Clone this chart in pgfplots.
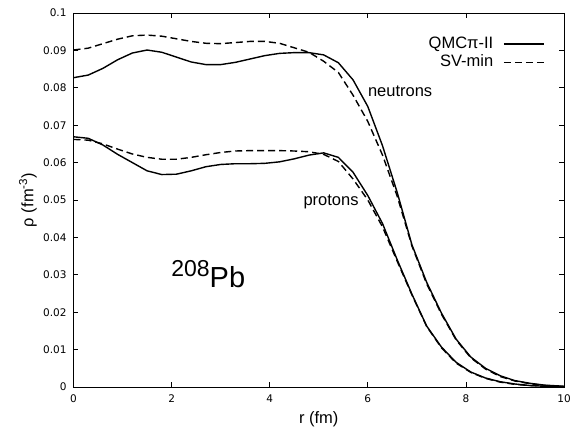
\documentclass[border=0pt]{standalone}
\usepackage{fontspec}
\setmainfont{Liberation Sans}
\newfontfamily\dejavu{DejaVu Sans}
\usepackage{pgfplots}
\pgfplotsset{compat=1.18}
\usepackage{pgfplotstable}

\pgfplotstableread{
r rho
0.0 0.0827
0.3 0.0834
0.6 0.0852
0.9 0.0875
1.2 0.0893
1.5 0.0901
1.8 0.0895
2.1 0.0882
2.4 0.0869
2.7 0.0862
3.0 0.0862
3.3 0.0868
3.6 0.0877
3.9 0.0886
4.2 0.0892
4.5 0.0894
4.8 0.0894
5.1 0.0888
5.4 0.0867
5.7 0.0821
6.0 0.0750
6.3 0.0645
6.6 0.0520
6.9 0.0380
7.2 0.0280
7.5 0.0198
7.8 0.0128
8.1 0.0080
8.4 0.0050
8.7 0.0030
9.0 0.0017
9.3 0.0010
9.6 0.0005
10.0 0.0002
}\qmcn

\pgfplotstableread{
r rho
0.0 0.0901
0.3 0.0906
0.6 0.0918
0.9 0.0930
1.2 0.0939
1.5 0.0941
1.8 0.0938
2.1 0.0931
2.4 0.0924
2.7 0.0919
3.0 0.0918
3.3 0.0921
3.6 0.0924
3.9 0.0924
4.2 0.0919
4.5 0.0907
4.8 0.0895
5.1 0.0871
5.4 0.0841
5.7 0.0780
6.0 0.0710
6.3 0.0620
6.6 0.0510
6.9 0.0377
7.2 0.0276
7.5 0.0195
7.8 0.0126
8.1 0.0078
8.4 0.0048
8.7 0.0028
9.0 0.0016
9.3 0.0009
9.6 0.0004
10.0 0.0001
}\svn

\pgfplotstableread{
r rho
0.0 0.0669
0.3 0.0665
0.6 0.0647
0.9 0.0622
1.2 0.0600
1.5 0.0578
1.8 0.0568
2.1 0.0569
2.4 0.0578
2.7 0.0589
3.0 0.0595
3.3 0.0597
3.6 0.0597
3.9 0.0598
4.2 0.0602
4.5 0.0610
4.8 0.0620
5.1 0.0626
5.4 0.0614
5.7 0.0574
6.0 0.0512
6.3 0.0437
6.6 0.0340
6.9 0.0248
7.2 0.0163
7.5 0.0107
7.8 0.0066
8.1 0.0040
8.4 0.0024
8.7 0.0014
9.0 0.0008
9.3 0.0004
9.6 0.0002
10.0 0.0001
}\qmcp

\pgfplotstableread{
r rho
0.0 0.0662
0.3 0.0660
0.6 0.0650
0.9 0.0636
1.2 0.0623
1.5 0.0614
1.8 0.0609
2.1 0.0609
2.4 0.0614
2.7 0.0621
3.0 0.0627
3.3 0.0631
3.6 0.0632
3.9 0.0632
4.2 0.0632
4.5 0.0631
4.8 0.0629
5.1 0.0622
5.4 0.0603
5.7 0.0556
6.0 0.0500
6.3 0.0428
6.6 0.0336
6.9 0.0246
7.2 0.0162
7.5 0.0105
7.8 0.0064
8.1 0.0039
8.4 0.0023
8.7 0.0013
9.0 0.0007
9.3 0.0004
9.6 0.0002
10.0 0.0001
}\svp

\begin{document}
\begin{tikzpicture}
\begin{axis}[
  scale only axis, width=490.5pt, height=374pt,
  at={(0,0)}, anchor=south west,
  xmin=0, xmax=10, ymin=0, ymax=0.1,
  xtick={0,2,4,6,8,10},
  xticklabels={0,2,4,6,8,10},
  ytick={0,0.01,0.02,0.03,0.04,0.05,0.06,0.07,0.08,0.09,0.1},
  yticklabels={0,0.01,0.02,0.03,0.04,0.05,0.06,0.07,0.08,0.09,0.1},
  scaled y ticks=false,
  tick align=inside, major tick length=5pt,
  tick style={black, line width=0.8pt},
  axis line style={black, line width=0.9pt},
  tick label style={font=\dejavu\fontsize{10.5}{12}\selectfont},
  xticklabel style={anchor=base, yshift=-15.7pt},
  yticklabel style={anchor=east, inner sep=0pt, xshift=-6.8pt},
  xlabel={r (fm)},
  ylabel={ρ (fm\textsuperscript{-3})},
  xlabel style={font=\fontsize{16.5}{18}\selectfont, at={(axis description cs:0.5,0)}, anchor=base, yshift=-37pt},
  ylabel style={font=\fontsize{16.5}{18}\selectfont, at={(axis description cs:-0.0928,0.5)}, anchor=center},
  legend style={at={(axis cs:9.61,0.0942)}, anchor=north east, draw=none, fill=none, inner sep=0pt,
    font=\fontsize{16.5}{18}\selectfont,
    nodes={inner sep=1.5pt, text height=12pt, text depth=3.5pt},
    /tikz/column sep=8.5pt, /tikz/row sep=0pt},
  legend cell align=right,
  legend plot pos=right,
  legend image code/.code={\draw[#1] (0pt,0pt) -- (40pt,0pt);},
]
\addplot[black, line width=1.4pt] table[x=r, y=rho] {\qmcn};
\addlegendentry{QMCπ-II}
\addplot[black, line width=1.4pt, dash pattern=on 7pt off 4pt] table[x=r, y=rho] {\svn};
\addlegendentry{SV-min}
\addplot[black, line width=1.4pt, forget plot] table[x=r, y=rho] {\qmcp};
\addplot[black, line width=1.4pt, dash pattern=on 7pt off 4pt, forget plot] table[x=r, y=rho] {\svp};
\node[anchor=base west, inner sep=0pt, font=\fontsize{16.5}{18}\selectfont] at (axis cs:6.0,0.0778) {neutrons};
\node[anchor=base west, inner sep=0pt, font=\fontsize{16.5}{18}\selectfont] at (axis cs:4.685,0.0484) {protons};
\node[anchor=base west, inner sep=0pt] at (axis cs:1.99,0.0265) {\fontsize{23}{25}\selectfont\raisebox{11pt}{208}\fontsize{29}{31}\selectfont Pb};
\end{axis}
\pgfresetboundingbox
\path[use as bounding box] (-73.5pt,-43pt) rectangle (499.5pt,387pt);
\end{tikzpicture}
\end{document}
